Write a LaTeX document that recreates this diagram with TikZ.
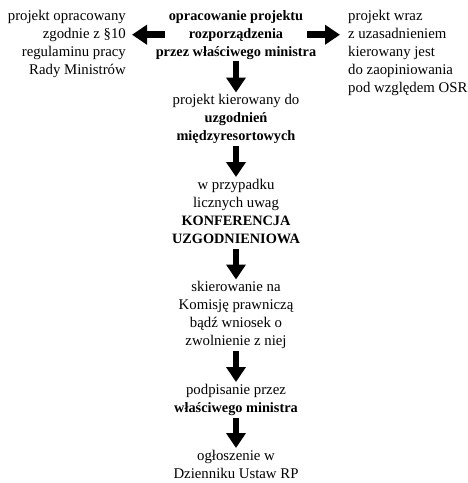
\documentclass[tikz,border=0pt]{standalone}
\usepackage{fontspec}
\setmainfont{Liberation Serif}
\usetikzlibrary{arrows.meta,calc}

\newcommand{\hl}[1]{{\fontsize{14.3}{18}\selectfont\bfseries #1}}

\begin{document}
\begin{tikzpicture}
	[x=1pt,y=-1pt,
	 bigarrow/.style={line width=6.5pt,-{Triangle[width=19pt,length=15pt]},shorten <=2pt,shorten >=2pt},
	 stage/.style={align=center,inner sep=0pt,anchor=north,font=\fontsize{14.8}{18}\selectfont},
	 sidenote/.style={inner sep=0pt,font=\fontsize{14.8}{18}\selectfont}]
	\useasboundingbox (0,0) rectangle (467,483);

	% stages of the procedure
	\node[stage] (draft) at (236,10) {\hl{opracowanie projektu}\\\hl{rozporządzenia}\\\hl{przez właściwego ministra}};
	\node[stage] (consult) at (236,94.5) {projekt kierowany do\\\hl{uzgodnień}\\\hl{międzyresortowych}};
	\node[stage] (conf) at (236,179) {w przypadku\\licznych uwag\\\hl{KONFERENCJA}\\\hl{UZGODNIENIOWA}};
	\node[stage] (commission) at (236,281.5) {skierowanie na\\Komisję prawniczą\\bądź wniosek o\\zwolnienie z niej};
	\node[stage] (signing) at (236,384) {podpisanie przez\\\hl{właściwego ministra}};
	\node[stage] (journal) at (236,450) {ogłoszenie w\\Dzienniku Ustaw RP};

	% side notes
	\node[sidenote,align=right,anchor=north east] (rules) at (126,10) {projekt opracowany\\zgodnie z §10\\regulaminu pracy\\Rady Ministrów};
	\node[sidenote,align=left,anchor=north west] (osr) at (348,10) {projekt wraz\\z uzasadnieniem\\kierowany jest\\do zaopiniowania\\pod względem OSR};

	% arrows to the side notes
	\coordinate (lefttail) at ([xshift=9pt]draft.west);
	\coordinate (righttail) at ([xshift=-9pt]draft.east);
	\draw[bigarrow,shorten <=0pt,shorten >=6pt] (lefttail) -- (lefttail -| rules.east);
	\draw[bigarrow,shorten <=0pt,shorten >=8pt] (righttail) -- (righttail -| osr.west);

	% arrows down the main line
	\draw[bigarrow] (draft) -- (consult);
	\draw[bigarrow] (consult) -- (conf);
	\draw[bigarrow,shorten <=5pt] (conf) -- (commission);
	\draw[bigarrow] (commission) -- (signing);
	\draw[bigarrow] (signing) -- (journal);
\end{tikzpicture}
\end{document}
